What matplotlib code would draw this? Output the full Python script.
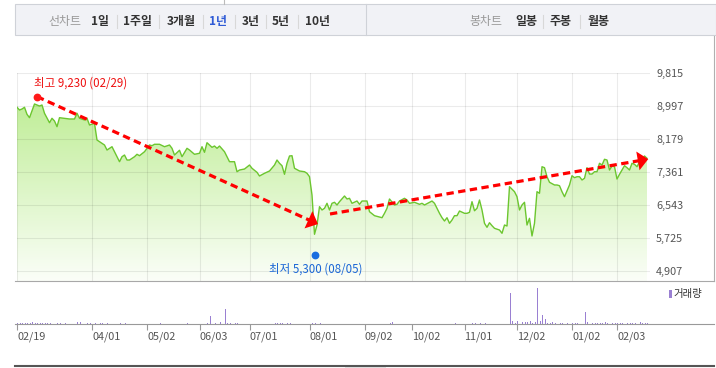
import numpy as np
import matplotlib
matplotlib.use('Agg')
import matplotlib.pyplot as plt
from matplotlib.colors import LinearSegmentedColormap
from matplotlib.patches import Polygon, Rectangle
from matplotlib.lines import Line2D

plt.rcParams['font.family'] = ['Noto Sans CJK KR', 'DejaVu Sans']

# 종가 (거래일 번호, 원)
days = [0, 1, 2, 3, 4, 5, 7, 8, 9, 10, 11, 13, 14, 15, 16, 17, 19, 21, 23, 24,
        25, 27, 28, 29, 31, 32, 33, 35, 36, 38, 39, 41, 42, 43, 44, 45, 47, 48, 49, 51,
        52, 53, 54, 55, 57, 59, 61, 62, 63, 65, 66, 68, 69, 71, 73, 74, 75, 76, 78, 79,
        80, 81, 83, 84, 85, 87, 88, 89, 91, 93, 94, 96, 97, 99, 101, 103, 104, 105, 106, 107,
        108, 109, 110, 111, 113, 115, 116, 117, 118, 119, 120, 121, 122, 123, 124, 125, 126, 127, 128, 129,
        131, 132, 133, 134, 136, 137, 138, 140, 141, 143, 146, 147, 148, 149, 151, 152, 153, 155, 156, 157,
        159, 161, 162, 163, 165, 166, 167, 169, 170, 171, 172, 173, 174, 175, 176, 177, 179, 180, 181, 182,
        183, 184, 185, 186, 187, 188, 189, 190, 191, 193, 194, 195, 196, 197, 199, 200, 201, 202, 203, 204,
        205, 206, 207, 208, 209, 210, 211, 212, 213, 215, 216, 217, 218, 219, 221, 222, 223, 224, 225, 226,
        227, 228, 229, 230, 231, 232, 233, 234, 235, 236, 237, 238, 239, 240, 241, 243, 244, 245, 246, 247,
        248, 249, 250, 251, 252]
closes = [8965, 8898, 8923, 8965, 8791, 8707, 9047, 9022, 8997, 9022, 8816, 8583, 8692, 8625, 8484, 8707, 8692, 8675, 8675, 8816,
          8692, 8650, 8692, 8526, 8568, 8154, 8112, 8030, 7906, 7988, 7864, 7616, 7740, 7782, 7658, 7658, 7740, 7800, 7765, 7864,
          7948, 8030, 8013, 8048, 8048, 7988, 8030, 7948, 7782, 7900, 7740, 7948, 7906, 7800, 7825, 7988, 7849, 8087, 7973, 8005,
          7948, 8005, 7864, 7740, 7616, 7616, 7368, 7410, 7435, 7534, 7453, 7353, 7262, 7329, 7386, 7534, 7658, 7577, 7517, 7304,
          7577, 7758, 7765, 7453, 7386, 7368, 7329, 7245, 6790, 5817, 6047, 6501, 6419, 6461, 6585, 6419, 6585, 6610, 6543, 6625,
          6766, 6692, 6709, 6585, 6642, 6560, 6642, 6642, 6377, 6278, 6228, 6337, 6461, 6692, 6543, 6560, 6642, 6709, 6667, 6585,
          6610, 6560, 6585, 6543, 6610, 6642, 6585, 6337, 6228, 6146, 6228, 6089, 6171, 6278, 6278, 6394, 6337, 6337, 6362, 6625,
          6400, 6461, 6667, 6419, 6089, 5990, 6104, 6030, 5965, 5923, 5841, 6047, 6022, 6997, 6873, 6749, 6419, 6543, 6610, 6047,
          6213, 5775, 6089, 6873, 6833, 7492, 7468, 7244, 7106, 7039, 7039, 7021, 6873, 6749, 7039, 7269, 7220, 7244, 7244, 7163,
          7205, 7468, 7311, 7311, 7368, 7368, 7577, 7534, 7676, 7658, 7410, 7510, 7492, 7187, 7304, 7517, 7468, 7410, 7577, 7552,
          7492, 7616, 7658, 7758, 7700]

# 거래량 (천주)
vol_days = [0, 1, 2, 3, 4, 5, 6, 7, 8, 9, 10, 11, 12, 13, 16, 17, 19, 24, 25, 28,
            29, 31, 33, 34, 36, 41, 43, 57, 68, 76, 77, 79, 81, 83, 84, 85, 87, 88, 103, 104,
            105, 106, 108, 109, 118, 119, 121, 149, 150, 175, 182, 183, 185, 187, 197, 198, 199, 200, 202, 203,
            204, 205, 206, 207, 208, 209, 210, 211, 212, 213, 214, 215, 217, 218, 220, 222, 223, 224, 227, 228,
            230, 231, 232, 233, 234, 235, 236, 238, 239, 240, 241, 242, 244, 245, 246, 247, 249, 250, 251, 252]
volumes = [20, 20, 20, 20, 20, 20, 40, 20, 20, 20, 20, 20, 20, 20, 20, 20, 20, 40, 40, 20,
           20, 20, 20, 20, 20, 20, 20, 20, 20, 20, 155, 20, 40, 300, 20, 20, 20, 20, 20, 20,
           20, 20, 20, 20, 20, 20, 20, 20, 40, 20, 20, 20, 20, 20, 620, 65, 20, 65, 40, 40,
           40, 65, 20, 40, 720, 65, 185, 105, 20, 20, 40, 20, 20, 20, 20, 20, 20, 20, 240, 40,
           20, 20, 20, 20, 20, 40, 20, 20, 20, 20, 20, 20, 20, 20, 20, 20, 40, 20, 20, 20]

tick_days = [0, 30, 52, 73, 93, 117, 139, 158, 179, 200, 222, 240]
tick_labels = ['02/19', '04/01', '05/02', '06/03', '07/01', '08/01', '09/02', '10/02',
               '11/01', '12/02', '01/02', '02/03']
price_ticks = [4907, 5725, 6543, 7361, 8179, 8997, 9815]

high_day, high_val = 8, 9230
low_day, low_val = 119, 5300
# 추세 화살표 (시작, 끝)
arrow_from = [(8, 9230), (125.2, 6320)]
arrow_to = [(120.4, 6070), (252.5, 7680)]

W, H = 716, 368


def fx(px):
    return px / W


def fy(py):
    return 1 - py / H


fig = plt.figure(figsize=(W / 100, H / 100), dpi=100)

# 상단 탭
fig.add_artist(Rectangle((fx(15), fy(35)), fx(716) - fx(15), fy(4) - fy(35), transform=fig.transFigure,
                         fc='#f1f2f6', ec='#cfd2d8', lw=0.8))
fig.add_artist(Line2D([fx(366), fx(366)], [fy(4), fy(35)], color='#cfd2d8', lw=0.8))
fig.add_artist(Line2D([fx(223.5), fx(223.5)], [fy(0), fy(4)], color='#bbbbbb', lw=0.8))

tabs = [('선차트', 64.5, '#999999', 'normal'), ('1일', 99.5, '#333333', 'bold'),
        ('1주일', 138, '#333333', 'bold'), ('3개월', 181.5, '#333333', 'bold'),
        ('1년', 218, '#2f5bd6', 'bold'), ('3년', 250.5, '#333333', 'bold'),
        ('5년', 281, '#333333', 'bold'), ('10년', 317, '#333333', 'bold'),
        ('봉차트', 486, '#999999', 'normal'), ('일봉', 526, '#333333', 'bold'),
        ('주봉', 561, '#333333', 'bold'), ('월봉', 598, '#333333', 'bold')]
for s, x, c, w in tabs:
    fig.text(fx(x), fy(21), s, ha='center', va='center', fontsize=8.6, color=c, fontweight=w)
for x in [116.5, 159, 203, 234.5, 265.5, 298, 543, 580]:
    fig.add_artist(Line2D([fx(x), fx(x)], [fy(15), fy(28)], color='#d8d8d8', lw=0.8))

# 테두리 선
fig.add_artist(Line2D([fx(713.5), fx(713.5)], [fy(36), fy(281)], color='#b0b0b0', lw=0.8))
fig.add_artist(Line2D([fx(15), fx(714)], [fy(281), fy(281)], color='#a8a8a8', lw=0.8))
fig.add_artist(Line2D([fx(15), fx(714)], [fy(324), fy(324)], color='#999999', lw=0.8))
fig.add_artist(Line2D([fx(15), fx(714)], [fy(366), fy(366)], color='#555555', lw=1.5))
fig.add_artist(Rectangle((fx(345), fy(368)), fx(386) - fx(345), fy(367) - fy(368), transform=fig.transFigure,
                         fc='#e4e4e4', ec='none'))

# 가격 차트
x_lo, x_hi = 0, 253.2
y_lo, y_hi = 4659, 9815
ax = fig.add_axes([fx(17), fy(281), fx(650) - fx(17), fy(73) - fy(281)])
fill = ax.fill_between(days, closes, y_lo, color='none', lw=0)
cmap = LinearSegmentedColormap.from_list('g', ['#b6eb88', '#fbfef8'])
grad = np.linspace(0, 1, 256).reshape(-1, 1)
im = ax.imshow(grad, extent=[x_lo, x_hi, y_lo, y_hi], aspect='auto', cmap=cmap, origin='upper', zorder=1)
im.set_clip_path(fill.get_paths()[0], transform=ax.transData)
ax.plot(days, closes, color='#6cc62f', lw=1.0, zorder=3)
ax.set_xlim(x_lo, x_hi)
ax.set_ylim(y_lo, y_hi)
ax.set_xticks(tick_days)
ax.set_yticks(price_ticks, [f'{v:,}' for v in price_ticks])
ax.yaxis.tick_right()
ax.tick_params(axis='x', length=0, labelbottom=False)
ax.tick_params(axis='y', length=0, pad=4.5, labelsize=7.8, labelcolor='#555555')
ax.set_axisbelow(False)
ax.grid(True, color='#000000', alpha=0.08, lw=0.8)
for sp in ax.spines.values():
    sp.set_visible(False)

# 최고 / 최저
ax.plot(high_day, high_val, 'o', color='#ff1a1a', ms=4.6, zorder=6, clip_on=False)
ax.annotate(f'최고 {high_val:,} (02/29)', xy=(high_day, high_val), xytext=(-3, 13.5),
            textcoords='offset pixels', ha='left', va='center', fontsize=8.3, color='#ee1111')
ax.plot(low_day, low_val, 'o', color='#1a6ee0', ms=4.6, zorder=6, clip_on=False)
ax.annotate(f'최저 {low_val:,} (08/05)', xy=(low_day, low_val), xytext=(-46, -14),
            textcoords='offset pixels', ha='left', va='center', fontsize=8.3, color='#1a66d6')

# 추세 화살표
for p0, p1 in zip(arrow_from, arrow_to):
    a = ax.transData.transform(p0)
    b = ax.transData.transform(p1)
    d = (b - a) / np.hypot(*(b - a))
    n = np.array([-d[1], d[0]])
    base = b - d * 10.5
    end = ax.transData.inverted().transform(base + d * 2)
    ax.plot([p0[0], end[0]], [p0[1], end[1]], color='#ff0000', lw=2.3, dashes=(2.3, 1.4),
            zorder=5, clip_on=False)
    tri = Polygon([b, base + n * 9.5, base - n * 9.5], closed=True, transform=None,
                  fc='#ff0000', ec='none', zorder=5, clip_on=False)
    ax.add_patch(tri)

# 거래량
axv = fig.add_axes([fx(17), fy(324), fx(650) - fx(17), fy(281) - fy(324)])
axv.vlines(vol_days, 0, volumes, colors='#9a80d2', lw=0.7, antialiased=False)
axv.set_xlim(x_lo, x_hi)
axv.set_ylim(0, 860)
axv.set_yticks([])
axv.set_xticks(tick_days, tick_labels, ha='left')
axv.tick_params(axis='x', length=4, width=0.8, color='#999999', pad=1.5, labelsize=7.8,
                labelcolor='#555555')
axv.patch.set_alpha(0)
for sp in axv.spines.values():
    sp.set_visible(False)

fig.add_artist(Rectangle((fx(669), fy(297.5)), fx(672) - fx(669), fy(290) - fy(297.5),
                         transform=fig.transFigure, fc='#9a80d2', ec='none'))
fig.text(fx(673.5), fy(294), '거래량', ha='left', va='center', fontsize=7.5, color='#333333')

fig.savefig('out.png', dpi=100)
